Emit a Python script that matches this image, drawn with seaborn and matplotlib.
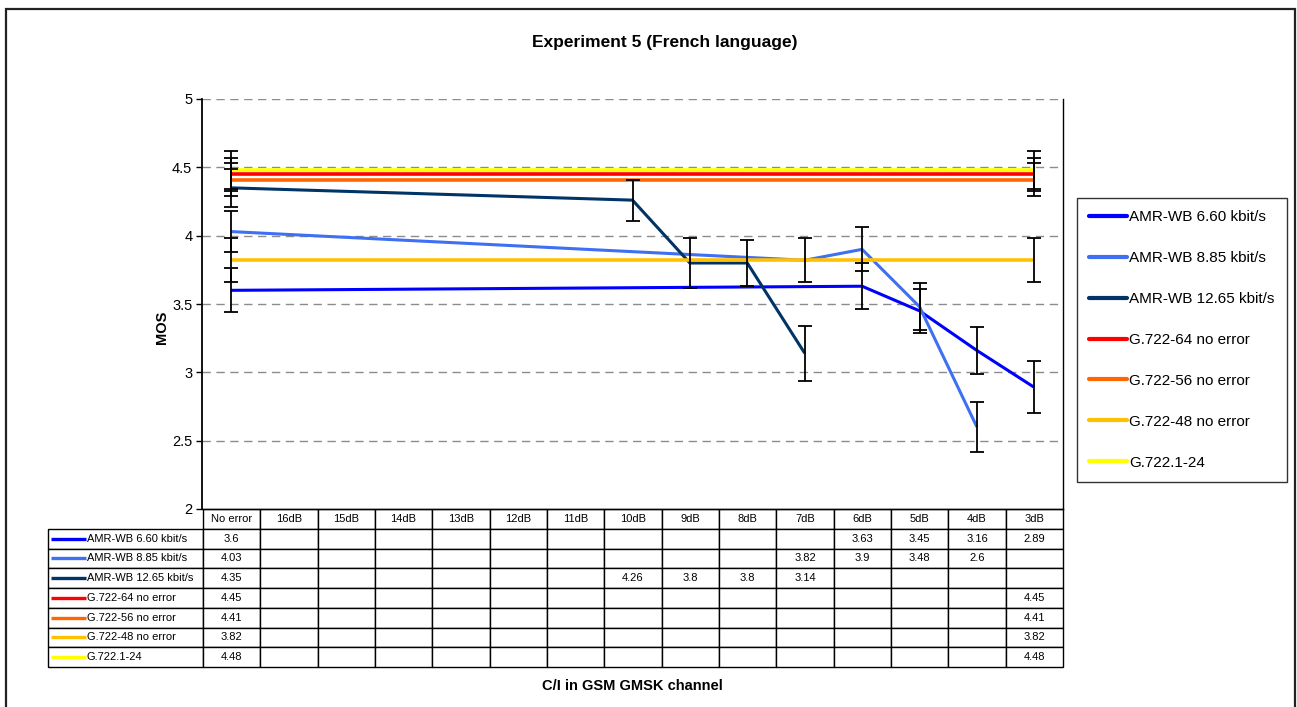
import numpy as np
import pandas as pd
import matplotlib
matplotlib.use("Agg")
import matplotlib.pyplot as plt
from matplotlib.patches import Rectangle
from matplotlib.lines import Line2D
import seaborn as sns

nan = np.nan

categories = ["No error", "16dB", "15dB", "14dB", "13dB", "12dB", "11dB",
              "10dB", "9dB", "8dB", "7dB", "6dB", "5dB", "4dB", "3dB"]

series_names = ["AMR-WB 6.60 kbit/s", "AMR-WB 8.85 kbit/s", "AMR-WB 12.65 kbit/s",
                "G.722-64 no error", "G.722-56 no error", "G.722-48 no error",
                "G.722.1-24"]

amr_660 = [3.6, nan, nan, nan, nan, nan, nan, nan, nan, nan, nan, 3.63, 3.45, 3.16, 2.89]
amr_885 = [4.03, nan, nan, nan, nan, nan, nan, nan, nan, nan, 3.82, 3.9, 3.48, 2.6, nan]
amr_1265 = [4.35, nan, nan, nan, nan, nan, nan, 4.26, 3.8, 3.8, 3.14, nan, nan, nan, nan]
g722_64 = [4.45] + [nan] * 13 + [4.45]
g722_56 = [4.41] + [nan] * 13 + [4.41]
g722_48 = [3.82] + [nan] * 13 + [3.82]
g7221_24 = [4.48] + [nan] * 13 + [4.48]

# confidence interval half-widths
ci_660 = [0.16, nan, nan, nan, nan, nan, nan, nan, nan, nan, nan, 0.17, 0.16, 0.17, 0.19]
ci_885 = [0.15, nan, nan, nan, nan, nan, nan, nan, nan, nan, 0.16, 0.16, 0.17, 0.18, nan]
ci_1265 = [0.14, nan, nan, nan, nan, nan, nan, 0.15, 0.18, 0.17, 0.20, nan, nan, nan, nan]
ci_64 = [0.12] + [nan] * 13 + [0.12]
ci_56 = [0.12] + [nan] * 13 + [0.12]
ci_48 = [0.16] + [nan] * 13 + [0.16]
ci_24 = [0.14] + [nan] * 13 + [0.14]

values = [amr_660, amr_885, amr_1265, g722_64, g722_56, g722_48, g7221_24]
cis = [ci_660, ci_885, ci_1265, ci_64, ci_56, ci_48, ci_24]
colors = ["#0000FF", "#3F6FF2", "#003366", "#FF0000", "#FF6600", "#FFC000", "#FFFF00"]
widths = [2.2, 2.2, 2.2, 2.6, 2.6, 2.6, 2.6]

rows = []
for name, vals, ci in zip(series_names, values, cis):
    for i, (v, e) in enumerate(zip(vals, ci)):
        if not np.isnan(v):
            rows.append({"series": name, "pos": i, "mos": v, "ci": e})
df = pd.DataFrame(rows)

sns.set_style("white")
plt.rcParams["font.family"] = ["Liberation Sans", "DejaVu Sans"]
plt.rcParams["text.color"] = "black"
plt.rcParams["axes.labelcolor"] = "black"
plt.rcParams["ytick.color"] = "black"
plt.rcParams["xtick.color"] = "black"

W, H = 1297, 707
fig = plt.figure(figsize=(W / 100, H / 100), dpi=100)

# plot area in pixels: x 202..1063, y 99..509
ax = fig.add_axes([202 / W, 1 - 509 / H, 861 / W, 410 / H])

sns.lineplot(data=df, x="pos", y="mos", hue="series", hue_order=series_names,
             palette=dict(zip(series_names, colors)), ax=ax, sort=True,
             estimator=None, errorbar=None)
for line, lw in zip(ax.get_lines(), widths):
    line.set_linewidth(lw)
    line.set_solid_capstyle("butt")

ax.errorbar(df["pos"], df["mos"], yerr=df["ci"], fmt="none", ecolor="black",
            elinewidth=1.3, capsize=5, capthick=1.3, zorder=5)

ax.set_xlim(-0.5, len(categories) - 0.5)
ax.set_ylim(2, 5)
ax.set_yticks([2, 2.5, 3, 3.5, 4, 4.5, 5])
ax.set_yticklabels(["2", "2.5", "3", "3.5", "4", "4.5", "5"])
ax.set_xticks([])
ax.set_xlabel("")
ax.set_ylabel("")
ax.tick_params(axis="y", direction="out", length=4, width=1, color="black",
               labelcolor="black", labelsize=10.5, pad=3, left=True)
for y in [2.5, 3, 3.5, 4, 4.5, 5]:
    ax.axhline(y, color="#8c8c8c", lw=1, dashes=(6, 4), zorder=0)
ax.spines["top"].set_visible(False)
ax.spines["left"].set_color("black")
ax.spines["left"].set_linewidth(1.3)
ax.spines["right"].set_color("black")
ax.spines["right"].set_linewidth(1.0)
ax.spines["bottom"].set_color("black")
ax.spines["bottom"].set_linewidth(1.0)

# legend at the right
handles, labels = ax.get_legend_handles_labels()
leg = ax.legend(handles, labels, loc="upper left",
                bbox_to_anchor=(1077 / W, 1 - 198 / H), bbox_transform=fig.transFigure,
                borderaxespad=0, frameon=True, fancybox=False, edgecolor="black",
                fontsize=11, handlelength=2.45, handletextpad=0.15,
                labelspacing=1.76, borderpad=0.8)
leg.get_frame().set_linewidth(1.0)
for lh in leg.get_lines():
    lh.set_linewidth(3)

# data table below the plot
cell_text = []
for name, vals in zip(series_names, values):
    cell_text.append([name] + ["" if np.isnan(v) else f"{v:g}" for v in vals])
col_w = [155] + [861 / 15] * 15
tx0 = (48 - 202) / 861
tw = (1063 - 48) / 861
th = (667 - 509) / 410
tab = ax.table(cellText=cell_text, colLabels=[""] + categories,
               colWidths=[c / sum(col_w) for c in col_w], cellLoc="center",
               bbox=[tx0, -th, tw, th])
tab.auto_set_font_size(False)
tab.set_fontsize(8)
for (r, c), cell in tab.get_celld().items():
    cell.set_linewidth(1.0)
    cell.set_edgecolor("black")
    cell.get_text().set_color("black")
    if r == 0 and c == 0:
        cell.visible_edges = ""
    if c == 0 and r > 0:
        cell._loc = "left"
        cell.get_text().set_horizontalalignment("left")
        cell.PAD = 39 / 155

# line samples in the table row labels
rh = th / 8
for i, (col, lw) in enumerate(zip(colors, widths)):
    yc = -(1.5 + i) * rh
    ax.add_line(Line2D([(51 - 202) / 861, (86 - 202) / 861], [yc, yc],
                       transform=ax.transAxes, color=col, lw=2.4,
                       clip_on=False, solid_capstyle="butt"))

fig.text(665 / W, 1 - 42 / H, "Experiment 5 (French language)", ha="center",
         va="center", fontsize=12.5, fontweight="bold")
fig.text(632 / W, 1 - 686 / H, "C/I in GSM GMSK channel", ha="center",
         va="center", fontsize=10.5, fontweight="bold")
fig.text(162 / W, 1 - 327 / H, "MOS", ha="center", va="center", rotation=90,
         fontsize=10.5, fontweight="bold")

fig.patches.append(Rectangle((6 / W, -0.02), (1295 - 6) / W, 1.02 - 9 / H,
                             transform=fig.transFigure, fill=False,
                             edgecolor="#222222", lw=1.6))

fig.savefig("out.png", dpi=100)
